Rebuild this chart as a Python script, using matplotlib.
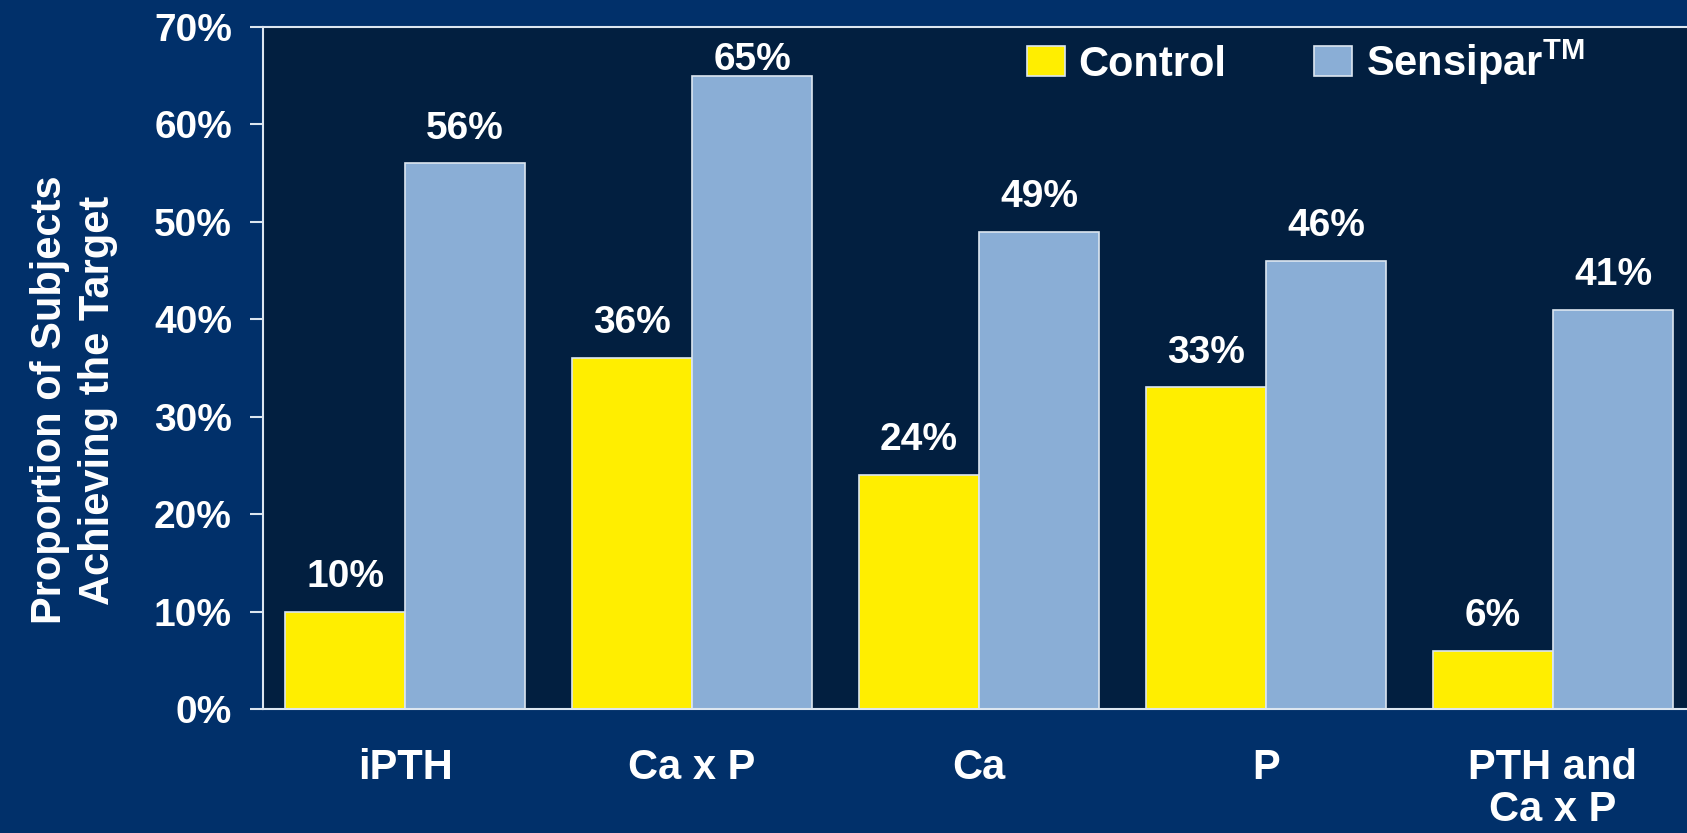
import numpy as np
import matplotlib
matplotlib.use("Agg")
import matplotlib.pyplot as plt

plt.rcParams['font.family'] = ['Liberation Sans', 'DejaVu Sans']
plt.rcParams['font.weight'] = 'bold'
plt.rcParams['mathtext.fontset'] = 'custom'
plt.rcParams['mathtext.rm'] = 'Liberation Sans'
plt.rcParams['mathtext.bf'] = 'Liberation Sans:bold'

categories = ["iPTH", "Ca x P", "Ca", "P", "PTH and\nCa x P"]
control = [10, 36, 24, 33, 6]
sensipar = [56, 65, 49, 46, 41]
series_names = ["Control", r"Sensipar$^{\mathbf{TM}}$"]
yticks = [0, 10, 20, 30, 40, 50, 60, 70]

outer_bg = "#01306a"
plot_bg = "#021f40"
yellow = "#ffee00"
blue = "#8aaed6"
line_col = "#dce6f0"

fig = plt.figure(figsize=(16.87, 8.33), dpi=100, facecolor=outer_bg)
ax = fig.add_axes([263 / 1687, 124 / 833, 1 - 263 / 1687, (709 - 27) / 833])
ax.set_facecolor(plot_bg)

x = np.arange(len(categories))
w = 0.418
ax.bar(x - w / 2, control, w, color=yellow, edgecolor=line_col, linewidth=1.2,
       label=series_names[0])
ax.bar(x + w / 2, sensipar, w, color=blue, edgecolor=line_col, linewidth=1.2,
       label=series_names[1])

# value labels above bars
for xi, v in zip(x - w / 2, control):
    ax.text(xi, min(v + 2.55, 65.6), f"{v}%", ha="center", va="baseline",
            color="white", fontsize=28, fontweight="bold")
for xi, v in zip(x + w / 2, sensipar):
    ax.text(xi, min(v + 2.55, 65.6), f"{v}%", ha="center", va="baseline",
            color="white", fontsize=28, fontweight="bold")

ax.set_xlim(-0.495, 4.467)
ax.set_ylim(0, 70)
ax.set_yticks(yticks)
ax.set_yticklabels([f"{t}%" for t in yticks])
ax.set_xticks(x)
ax.set_xticklabels(categories, linespacing=1.08)

ax.tick_params(axis="y", colors=line_col, length=9.4, width=1.5, pad=13,
               labelsize=28, labelcolor="white")
ax.tick_params(axis="x", length=0, pad=28, labelsize=30, labelcolor="white")

for s in ["left", "bottom", "top"]:
    ax.spines[s].set_color(line_col)
    ax.spines[s].set_linewidth(1.5)
ax.spines["right"].set_visible(False)

fig.text(74 / 1687, 1 - 400 / 833,
         "Proportion of Subjects\nAchieving the Target",
         rotation=90, ha="center", va="center", multialignment="center",
         color="white", fontsize=30, fontweight="bold", linespacing=1.25)

leg = ax.legend(loc="center left", bbox_to_anchor=(1027 / 1687, 1 - 62 / 833),
                bbox_transform=fig.transFigure, ncol=2, frameon=False,
                borderpad=0, borderaxespad=0, fontsize=30,
                handlelength=0.9, handleheight=0.72, handletextpad=0.34,
                columnspacing=2.1)
for t in leg.get_texts():
    t.set_color("white")

fig.savefig("out.png", dpi=100, facecolor=outer_bg)
